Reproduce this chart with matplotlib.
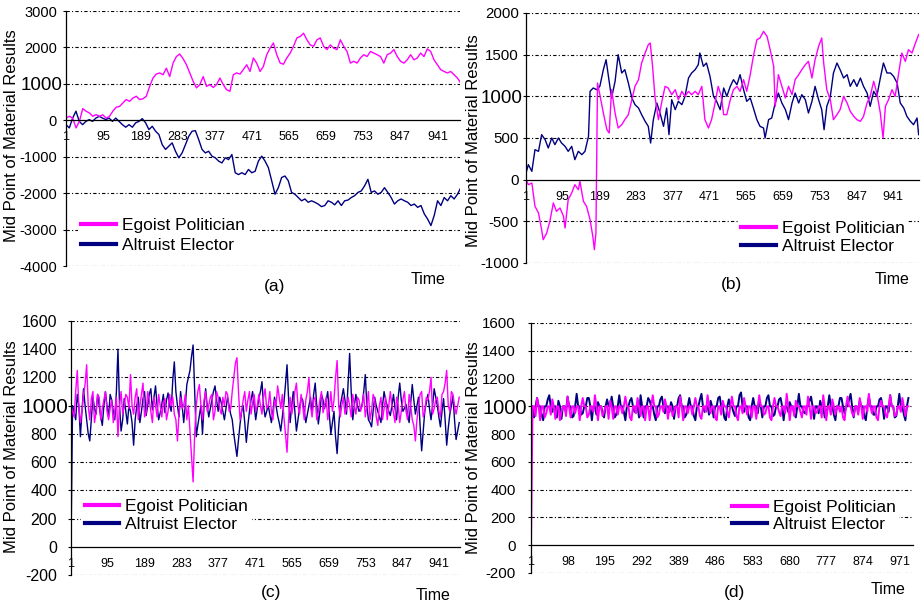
import matplotlib
matplotlib.use("Agg")
import matplotlib.pyplot as plt
import matplotlib.transforms as mtransforms
import numpy as np

plt.rcParams['font.family'] = ['Liberation Sans', 'DejaVu Sans']

PINK = '#FF00FF'
NAVY = '#000080'
LABELS = ['Egoist Politician', 'Altruist Elector']

# ---- (a) read every ~8.4 steps, t = 1..1000 ----
a_egoist = [60, 110, 60, -210, -30, 320, 250, 200, 110, 155, 110, 150, 60, 110, 250, 360, 380, 475, 570, 520,
            610, 660, 570, 590, 660, 930, 1160, 1270, 1300, 1250, 1430, 1200, 1570, 1750, 1820, 1690, 1525, 1300, 1070, 890,
            980, 1200, 930, 980, 900, 980, 1160, 980, 840, 795, 1250, 1300, 1270, 1390, 1525, 1340, 1710, 1570, 1340,
            1480, 1800, 1980, 2120, 1800, 1570, 1540, 1710, 1845, 2030, 2260, 2300, 2390, 2210, 2070, 2030, 2210, 2260, 2030, 1940,
            2070, 1980, 1940, 2210, 2030, 1890, 1570, 1620, 1570, 1710, 1800, 1750, 1890, 1845, 1800, 1750, 1570, 1800, 1845, 1940,
            1750, 1620, 1570, 1660, 1800, 1660, 1710, 1845, 1750, 1960, 1890, 1660, 1525, 1390, 1340, 1300, 1340, 1250, 1160, 1020]
a_altruist = [-120, -210, 60, 250, -30, -120, -30, 20, -30, 60, 110, 60, 20, 60, -30, 60, -30, -120, -190, -120,
              -190, -70, -30, 45, -70, -255, -165, -300, -390, -670, -800, -710, -620, -850, -1030, -895, -670, -440, -300, -285,
              -530, -800, -895, -850, -985, -1030, -1120, -1170, -1030, -1080, -940, -1440, -1490, -1440, -1490, -1350, -1440, -1400, -1120, -985,
              -1120, -1300, -1660, -2030, -1850, -1570, -1530, -1660, -1980, -2030, -2120, -2210, -2160, -2250, -2210, -2250, -2300, -2370, -2340, -2210,
              -2250, -2320, -2210, -2340, -2210, -2190, -2120, -2070, -1980, -1940, -1800, -1620, -1980, -1940, -2030, -1980, -1850, -1980, -2120, -2300,
              -2210, -2160, -2210, -2250, -2340, -2300, -2390, -2340, -2570, -2710, -2890, -2610, -2210, -2340, -2120, -2210, -2070, -2160, -2030, -1850]

# ---- (b) time / value readings ----
b_egoist_t = [1, 7, 16, 24, 33, 41, 45, 54, 62, 71, 79, 88, 97, 101, 109, 118, 126, 135, 139, 148,
              156, 165, 172, 176, 180, 184, 190, 199, 208, 214, 220, 229, 237, 246, 254, 263, 272, 280, 289, 297,
              306, 314, 319, 325, 331, 340, 348, 357, 365, 374, 383, 391, 400, 408, 417, 425, 434, 442, 451, 459,
              468, 476, 485, 493, 501, 507, 515, 524, 532, 541, 549, 558, 566, 575, 583, 592, 600, 609, 618, 626,
              635, 639, 647, 656, 665, 673, 682, 690, 699, 707, 716, 724, 733, 741, 750, 758, 763, 771, 780, 788,
              797, 805, 814, 823, 831, 840, 848, 857, 865, 874, 882, 891, 899, 908, 915, 921, 929, 938, 946, 955,
              963, 972, 980, 989, 998, 1006]
b_egoist = [0, -60, -40, -320, -400, -600, -720, -640, -500, -280, -380, -340, -440, -580, -240, -160, -60, -120, -20, -260,
            -320, -480, -680, -840, -640, 1160, 1020, 800, 600, 560, 1080, 800, 620, 660, 720, 780, 960, 1120, 1200, 1400,
            1520, 1620, 1640, 1360, 1000, 720, 920, 1120, 1100, 1020, 1080, 960, 1060, 1000, 1060, 1020, 1060, 1020, 1120, 720,
            620, 720, 920, 1120, 1000, 780, 780, 960, 1080, 1120, 1060, 1200, 1060, 1260, 1480, 1680, 1700, 1780, 1720, 1560,
            1360, 880, 1260, 1120, 980, 1120, 1020, 1200, 1260, 1320, 1380, 1420, 1220, 1440, 1600, 1700, 1400, 1080, 960, 720,
            780, 840, 1000, 920, 820, 760, 720, 700, 760, 920, 1000, 1180, 1040, 800, 500, 880, 960, 1080, 1000, 1280,
            1520, 1420, 1560, 1520, 1640, 1740]
b_altruist_t = [1, 7, 16, 24, 33, 41, 50, 58, 67, 75, 84, 92, 101, 109, 118, 126, 135, 144, 152, 161,
                165, 173, 182, 190, 199, 206, 212, 220, 229, 237, 246, 254, 263, 272, 280, 289, 297, 306, 314, 320,
                327, 336, 344, 353, 361, 367, 374, 383, 391, 400, 408, 417, 425, 434, 442, 446, 455, 463, 472, 481,
                489, 498, 507, 515, 524, 532, 541, 549, 558, 566, 575, 583, 592, 600, 609, 613, 622, 630, 639, 647,
                656, 665, 673, 682, 690, 699, 707, 716, 724, 733, 741, 750, 758, 764, 771, 780, 788, 797, 805, 814,
                823, 831, 840, 848, 857, 865, 874, 882, 891, 899, 908, 916, 925, 934, 942, 951, 959, 968, 976, 985,
                993, 1002, 1006]
b_altruist = [80, 180, 100, 360, 340, 540, 480, 380, 500, 420, 500, 440, 400, 340, 400, 240, 340, 300, 340, 520,
              1060, 1100, 1080, 1120, 1320, 1440, 1240, 980, 1180, 1500, 1280, 1320, 1160, 980, 900, 860, 780, 700, 640, 440,
              720, 920, 800, 640, 860, 540, 960, 840, 940, 900, 1000, 1220, 1280, 1320, 1380, 1520, 1360, 1400, 1240, 1000,
              940, 840, 1100, 1000, 1120, 1200, 1140, 1260, 1080, 940, 980, 860, 720, 640, 620, 500, 720, 740, 920, 1040,
              920, 840, 720, 920, 1040, 920, 1020, 960, 800, 940, 1120, 960, 840, 600, 880, 1000, 1280, 1400, 1320, 1220,
              1260, 1120, 1200, 1120, 1220, 1120, 1040, 880, 1060, 1000, 1220, 1400, 1280, 1280, 1240, 1160, 920, 860, 760, 700,
              660, 740, 540]

# ---- (c) every 4 steps ----
c_egoist = [1000, 960, 920, 1100, 1250, 1000, 880, 960, 1080, 1150, 1290, 1000, 900, 1050, 1100, 880, 950, 1080, 1060, 900,
            980, 1040, 1100, 960, 900, 980, 1040, 880, 960, 1060, 780, 1000, 1100, 940, 1000, 1080, 1060, 980, 1220, 1000,
            940, 1060, 1120, 900, 1000, 1080, 1160, 920, 950, 1100, 1040, 960, 880, 1060, 1000, 920, 1080, 1000, 920, 1020,
            1050, 900, 960, 1080, 1000, 1060, 940, 900, 750, 940, 1060, 980, 1000, 1080, 900, 1000, 820, 640, 460, 800,
            1000, 1100, 1150, 1000, 900, 1040, 1100, 960, 1000, 1060, 1080, 900, 960, 1100, 1060, 980, 940, 1060, 1000, 1100,
            1080, 960, 980, 1100, 1200, 1300, 1340, 1100, 900, 960, 1040, 1100, 960, 1040, 1100, 940, 1020, 1080, 960, 1000,
            1080, 1000, 940, 1060, 1120, 980, 1000, 1100, 960, 900, 1040, 1000, 1140, 1060, 980, 1080, 920, 800, 670, 900,
            1060, 940, 1000, 1100, 1160, 1000, 940, 1080, 1000, 900, 1040, 1100, 1200, 1000, 920, 1040, 1060, 900, 960, 1040,
            1100, 950, 1000, 1060, 900, 980, 1100, 960, 1040, 1200, 1320, 1000, 920, 1000, 1060, 940, 980, 1060, 1000, 920,
            1080, 1000, 940, 1060, 1040, 960, 1000, 1080, 920, 1000, 1100, 900, 960, 1080, 1040, 920, 860, 1000, 1060, 900,
            980, 1060, 900, 1000, 1100, 1000, 950, 880, 1060, 1000, 880, 960, 1040, 1100, 960, 900, 1080, 1000, 900, 860,
            750, 900, 1000, 1080, 1100, 920, 960, 1060, 1040, 1100, 1200, 940, 980, 1040, 1060, 960, 920, 1080, 1100, 1160,
            1250, 1000, 960, 1100, 1080, 1000, 940, 1000, 1060]
c_altruist = [0, 1000, 950, 900, 1080, 1000, 780, 960, 1120, 1000, 900, 800, 750, 900, 1060, 980, 940, 1080, 1000, 920,
              860, 1000, 1100, 1000, 920, 1080, 1040, 960, 900, 1100, 1400, 1000, 820, 900, 1050, 960, 870, 1000, 960, 880,
              720, 900, 1000, 1060, 880, 960, 1050, 1100, 930, 1000, 1080, 1120, 970, 1060, 1140, 1000, 900, 950, 1010, 1080,
              950, 1040, 1090, 1000, 960, 1180, 1310, 1100, 1000, 920, 1100, 1000, 880, 1000, 1150, 1200, 1250, 1350, 1430, 1100,
              780, 860, 930, 1000, 800, 1000, 1120, 1000, 920, 980, 1040, 1100, 1140, 1040, 960, 1060, 1020, 960, 900, 980,
              1060, 1000, 940, 900, 800, 720, 640, 760, 870, 960, 1000, 880, 740, 860, 960, 1040, 1100, 1000, 900, 980,
              1050, 1100, 1170, 1000, 920, 960, 1000, 940, 880, 960, 1060, 1000, 930, 880, 820, 920, 1020, 1150, 1290, 1050,
              880, 1000, 1100, 960, 820, 900, 980, 1060, 1040, 960, 880, 940, 1000, 1060, 940, 1080, 1160, 1000, 870, 960,
              1080, 1040, 980, 1040, 1100, 940, 800, 880, 960, 780, 660, 850, 1000, 1060, 1120, 1040, 940, 1150, 1370, 1100,
              900, 1000, 1080, 1000, 960, 980, 1010, 1100, 1220, 1000, 900, 880, 850, 960, 1060, 1000, 960, 920, 880, 1000,
              1100, 1040, 1000, 960, 930, 1000, 1080, 980, 900, 1060, 1160, 1040, 960, 980, 1010, 940, 880, 1020, 1150, 1040,
              940, 1000, 1060, 860, 680, 820, 960, 1020, 1080, 980, 900, 1000, 1120, 1060, 1000, 920, 850, 960, 1050, 900,
              720, 840, 940, 1000, 1070, 900, 760, 820, 880]

# ---- (d) every 4 steps ----
d_egoist = [0, 1000, 1000, 930, 1060, 1000, 900, 1000, 1000, 920, 950, 1000, 1000, 940, 1050, 1000, 910, 1000, 1000, 900,
            960, 1000, 1000, 930, 1070, 1000, 920, 1000, 1000, 950, 1000, 1000, 900, 1000, 1060, 1000, 1000, 920, 940, 1000,
            1000, 960, 1080, 1000, 900, 1000, 1000, 930, 960, 1000, 1000, 910, 1040, 1000, 910, 1000, 1000, 940, 1000, 1000,
            950, 1000, 1070, 1000, 1000, 920, 900, 1000, 1000, 950, 1060, 1000, 930, 1000, 1000, 900, 1000, 1000, 900, 1000,
            1080, 1000, 1000, 920, 940, 1000, 1000, 960, 1050, 1000, 910, 1000, 1000, 930, 960, 1000, 1000, 920, 1070, 1000,
            900, 1000, 1000, 950, 1000, 1000, 940, 1000, 1060, 1000, 1000, 930, 910, 1000, 1000, 960, 1080, 1000, 950, 1000,
            1000, 920, 900, 1000, 1000, 940, 1040, 1000, 1000, 960, 920, 1000, 1070, 1000, 1000, 930, 900, 1000, 1000, 950,
            1060, 1000, 940, 1000, 1000, 920, 1000, 1000, 910, 1000, 1080, 1000, 1000, 940, 950, 1000, 1000, 920, 900, 1000,
            1060, 1000, 1000, 960, 930, 1000, 1000, 950, 1090, 1000, 900, 1000, 1000, 930, 1040, 1000, 1000, 960, 920, 1000,
            1000, 940, 1070, 1000, 910, 1000, 1000, 950, 960, 1000, 1000, 920, 1080, 1000, 900, 1000, 1000, 940, 1050, 1000,
            940, 1000, 1000, 960, 1000, 920, 900, 1000, 1070, 1000, 1000, 950, 930, 1000, 1000, 940, 1060, 1000, 910, 1000,
            1000, 960, 1090, 1000, 950, 1000, 1000, 920, 900, 1000, 1040, 1000, 1000, 940, 920, 1000, 1080, 1000, 1000, 930,
            940, 1000, 1000, 960, 1060, 1000, 930, 1000, 1000]
d_altruist = [1000, 1000, 920, 1000, 1060, 1000, 1000, 940, 900, 1000, 1000, 1050, 1080, 1000, 960, 1000, 1000, 920, 1040, 1000,
              910, 1000, 1000, 960, 1070, 1000, 1000, 920, 930, 1000, 1090, 1000, 1000, 940, 950, 1000, 1000, 1060, 1060, 1000,
              900, 1000, 1000, 940, 1030, 1000, 1000, 960, 920, 1000, 1050, 1000, 1000, 1070, 1000, 920, 940, 1000, 1080, 1000,
              1000, 960, 900, 1000, 1000, 1040, 1060, 1000, 960, 1000, 1000, 920, 1080, 1000, 920, 1000, 1000, 1060, 1040, 1000,
              1000, 940, 900, 1000, 1000, 1050, 1070, 1000, 950, 1000, 1000, 960, 1030, 1000, 910, 1000, 1000, 1060, 1080, 1000,
              1000, 920, 940, 1000, 1060, 1000, 1000, 930, 900, 1000, 1000, 1050, 1090, 1000, 960, 1000, 1000, 940, 1040, 1000,
              920, 1000, 1000, 1060, 1070, 1000, 1000, 920, 900, 1000, 1050, 1000, 1000, 960, 930, 1000, 1000, 1080, 1100, 1000,
              960, 1000, 1000, 920, 900, 1000, 1060, 1000, 1000, 950, 1040, 1000, 920, 1000, 1000, 1060, 1080, 1000, 1000, 930,
              940, 1000, 1000, 1050, 1060, 1000, 900, 1000, 1000, 960, 1030, 1000, 1000, 940, 920, 1000, 1090, 1000, 1000, 960,
              950, 1000, 1000, 1040, 1070, 1000, 910, 1000, 1000, 950, 1040, 1000, 1000, 920, 930, 1000, 1080, 1000, 1000, 940,
              900, 1000, 1000, 1060, 1060, 1000, 950, 1000, 1000, 1050, 1090, 1000, 920, 1000, 1000, 960, 1040, 1000, 1000, 930,
              900, 1000, 1070, 1000, 1000, 940, 940, 1000, 1000, 1050, 1060, 1000, 910, 1000, 1000, 960, 1080, 1000, 1000, 920,
              930, 1000, 1090, 1000, 1000, 940, 900, 1000, 1060]

ticks_a = [-4000, -3000, -2000, -1000, 0, 1000, 2000, 3000]
ticks_b = [-1000, -500, 0, 500, 1000, 1500, 2000]
ticks_cd = [-200, 0, 200, 400, 600, 800, 1000, 1200, 1400, 1600]
xt_abc = [1, 95, 189, 283, 377, 471, 565, 659, 753, 847, 941]
xt_d = [1, 98, 195, 292, 389, 486, 583, 680, 777, 874, 971]

W, H = 921, 607
fig = plt.figure(figsize=(W / 100, H / 100), dpi=100)


def px(x, y):
    return x / W, 1 - y / H


def panel(l, t, r, b, xmax, yticks, xticks, series, yfs, bigfs, ypad, bigshift,
          leg_xy, lw, lspace):
    ax = fig.add_axes([l / W, 1 - b / H, (r - l) / W, (b - t) / H])
    ax.set_xlim(1, xmax)
    ax.set_ylim(yticks[0], yticks[-1])
    for v in yticks:
        if v != 0:
            ax.axhline(v, color='black', lw=0.8, ls=(0, (3, 2, 1, 2)), zorder=1)
    handles = []
    for (xs, ys, col) in series:
        h, = ax.plot(xs, ys, color=col, lw=lw, zorder=2)
        handles.append(h)
    for s in ['top', 'right']:
        ax.spines[s].set_visible(False)
    ax.spines['bottom'].set_position(('data', 0))
    ax.spines['bottom'].set_linewidth(0.9)
    ax.spines['left'].set_linewidth(0.9)
    ax.set_yticks(yticks)
    ax.set_yticklabels([str(v) for v in yticks])
    ax.tick_params(axis='y', length=2, width=0.8, pad=ypad)
    shift = mtransforms.ScaledTranslation(bigshift / 100, 0, fig.dpi_scale_trans)
    for tick in ax.yaxis.get_major_ticks():
        lbl = tick.label1
        if lbl.get_text() == '1000':
            lbl.set_fontsize(bigfs)
            lbl.set_transform(lbl.get_transform() + shift)
        else:
            lbl.set_fontsize(yfs)
    ax.set_xticks(xticks)
    ax.set_xticklabels([str(v) for v in xticks], fontsize=9)
    ax.tick_params(axis='x', length=0, pad=8)
    # legend order: politician first
    leg = ax.legend([handles[1], handles[0]], LABELS, loc='center left',
                    bbox_to_anchor=leg_xy, fontsize=12.5, frameon=True,
                    fancybox=False, edgecolor='none', facecolor='white', framealpha=1,
                    handlelength=2.0, handletextpad=0.35, borderpad=0.2,
                    labelspacing=lspace, borderaxespad=0)
    for ln in leg.get_lines():
        ln.set_linewidth(3)
    leg.set_zorder(5)
    return ax


t_a = np.linspace(1, 1000, len(a_egoist))
t_a2 = np.linspace(1, 1000, len(a_altruist))
t_c = 1 + 4 * np.arange(len(c_egoist))
t_c2 = 1 + 4 * np.arange(len(c_altruist))
t_d = 1 + 4 * np.arange(len(d_egoist))
t_d2 = 1 + 4 * np.arange(len(d_altruist))

panel(66, 11, 460, 266, 998, ticks_a, xt_abc,
      [(t_a2, a_altruist, NAVY), (t_a, a_egoist, PINK)], 10.5, 13.5, 4.5, 6,
      (0.030, 0.12), 1.0, 0.25)
panel(526, 13, 919, 263, 1007, ticks_b, xt_abc,
      [(b_altruist_t, b_altruist, NAVY), (b_egoist_t, b_egoist, PINK)], 10.8, 13.5, 3.0, 3,
      (0.539, 0.102), 1.0, 0.2)
panel(71, 321, 460, 575, 995, ticks_cd, xt_abc,
      [(t_c2, c_altruist, NAVY), (t_c, c_egoist, PINK)], 11.5, 15, 8.0, 11,
      (0.026, 0.234), 1.0, 0.15)
panel(531, 323, 913, 573, 1005, ticks_cd, xt_d,
      [(t_d2, d_altruist, NAVY), (t_d, d_egoist, PINK)], 10.8, 14.5, 8.8, 11,
      (0.518, 0.228), 1.4, 0.1)

ylab = 'Mid Point of Material Results'
for (x, y) in [(12, 136), (473, 141), (12, 447), (473, 448)]:
    fig.text(*px(x, y), ylab, rotation=90, ha='center', va='center', fontsize=12)

for (x, y, s) in [(428, 279, 'Time'), (892, 279, 'Time'), (433, 595, 'Time'), (888, 589, 'Time')]:
    fig.text(*px(x, y), s, ha='center', va='center', fontsize=11.5)
for (x, y, s) in [(275, 287, '(a)'), (731, 285, '(b)'), (271, 593, '(c)'), (734, 593, '(d)')]:
    fig.text(*px(x, y), s, ha='center', va='center', fontsize=12.5)

fig.savefig('out.png', dpi=100)
